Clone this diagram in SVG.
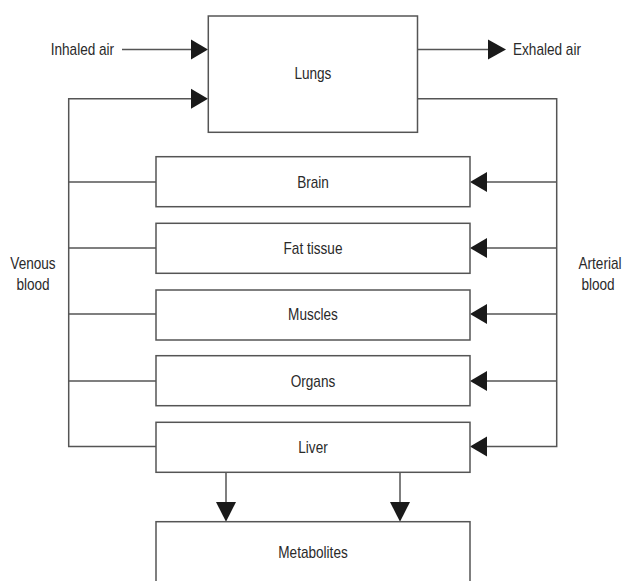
<svg xmlns="http://www.w3.org/2000/svg" width="625" height="581" viewBox="0 0 625 581">
<defs>
<style>
.box{fill:#fff;stroke:#555;stroke-width:1.5}
.ln{fill:none;stroke:#555;stroke-width:1.5}
.ah{fill:#1a1a1a;stroke:none}
text{font-family:"Liberation Sans",Arial,sans-serif;font-size:16px;fill:#2a2a2a}
.c{text-anchor:middle}
</style>
</defs>
<rect width="625" height="581" fill="#fff"/>
<g id="connectors">
<line class="ln" x1="122" y1="49.5" x2="192" y2="49.5"/>
<polygon class="ah" points="191,39.5 208,49.5 191,59.5"/>
<line class="ln" x1="417.5" y1="49.5" x2="489" y2="49.5"/>
<polygon class="ah" points="488,39.5 506,49.5 488,59.5"/>
<polyline class="ln" points="192,98.7 68.7,98.7 68.7,446.5 156,446.5"/>
<polygon class="ah" points="191,88.7 208,98.7 191,108.7"/>
<line class="ln" x1="68.7" y1="182" x2="156" y2="182"/>
<line class="ln" x1="68.7" y1="248" x2="156" y2="248"/>
<line class="ln" x1="68.7" y1="314" x2="156" y2="314"/>
<line class="ln" x1="68.7" y1="381" x2="156" y2="381"/>
<polyline class="ln" points="417.5,98.7 556.7,98.7 556.7,446.5 486,446.5"/>
<line class="ln" x1="556.7" y1="182" x2="486" y2="182"/>
<line class="ln" x1="556.7" y1="248" x2="486" y2="248"/>
<line class="ln" x1="556.7" y1="314" x2="486" y2="314"/>
<line class="ln" x1="556.7" y1="381" x2="486" y2="381"/>
<polygon class="ah" points="487,172 470,182 487,192"/>
<polygon class="ah" points="487,238 470,248 487,258"/>
<polygon class="ah" points="487,304 470,314 487,324"/>
<polygon class="ah" points="487,371 470,381 487,391"/>
<polygon class="ah" points="487,436.5 470,446.5 487,456.5"/>
<line class="ln" x1="226" y1="472.3" x2="226" y2="503"/>
<polygon class="ah" points="216,502 226,521.7 236,502"/>
<line class="ln" x1="400" y1="472.3" x2="400" y2="503"/>
<polygon class="ah" points="390,502 400,521.7 410,502"/>
</g>
<g id="labels">
<text transform="translate(50.7,55) scale(0.85,1)">Inhaled air</text>
<text transform="translate(513,55) scale(0.85,1)">Exhaled air</text>
<text class="c" transform="translate(33,269) scale(0.85,1)">Venous</text>
<text class="c" transform="translate(33,290) scale(0.85,1)">blood</text>
<text class="c" transform="translate(600,269) scale(0.85,1)">Arterial</text>
<text class="c" transform="translate(598,290) scale(0.85,1)">blood</text>
</g>
<g id="lungs"><rect class="box" x="208.3" y="16" width="209.2" height="116.3"/><text class="c" transform="translate(312.9,79) scale(0.85,1)">Lungs</text></g>
<g id="brain"><rect class="box" x="156" y="156.7" width="314" height="50"/><text class="c" transform="translate(313,187.5) scale(0.85,1)">Brain</text></g>
<g id="fat"><rect class="box" x="156" y="223.3" width="314" height="50"/><text class="c" transform="translate(313,253.5) scale(0.85,1)">Fat tissue</text></g>
<g id="muscles"><rect class="box" x="156" y="290" width="314" height="50"/><text class="c" transform="translate(313,320) scale(0.85,1)">Muscles</text></g>
<g id="organs"><rect class="box" x="156" y="355.7" width="314" height="50"/><text class="c" transform="translate(313,386.5) scale(0.85,1)">Organs</text></g>
<g id="liver"><rect class="box" x="156" y="422.3" width="314" height="50"/><text class="c" transform="translate(313,452.5) scale(0.85,1)">Liver</text></g>
<g id="metabolites"><rect class="box" x="156" y="521.7" width="314" height="80"/><text class="c" transform="translate(313,557.5) scale(0.85,1)">Metabolites</text></g>
</svg>
